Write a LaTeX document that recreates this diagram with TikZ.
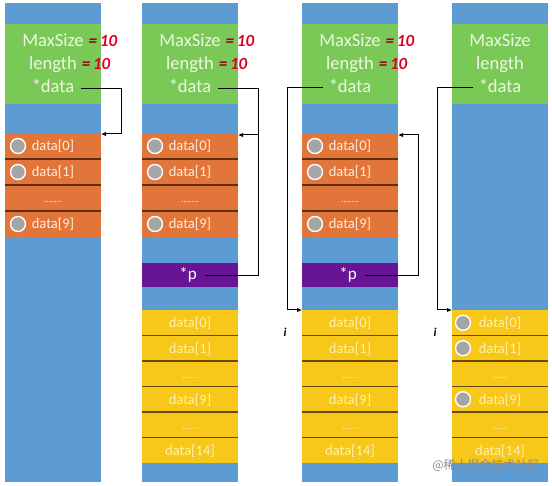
\documentclass[tikz,border=0pt]{standalone}
\usepackage{fontspec}
\setmainfont{Carlito}
\newfontfamily\cjkfont{Noto Sans CJK SC}
\usetikzlibrary{arrows.meta}
\definecolor{blueC}{RGB}{93,155,211}
\definecolor{greenC}{RGB}{122,200,86}
\definecolor{orangeC}{RGB}{226,118,58}
\definecolor{yellowC}{RGB}{247,199,26}
\definecolor{purpleC}{RGB}{104,20,150}
\definecolor{gtextC}{RGB}{236,248,226}
\definecolor{otextC}{RGB}{255,236,222}
\definecolor{ytextC}{RGB}{255,240,175}
\definecolor{circG}{RGB}{165,165,165}
\definecolor{sepOC}{RGB}{95,45,15}
\definecolor{sepYC}{RGB}{105,75,5}
\definecolor{annoDark}{RGB}{150,0,25}
\definecolor{annoRed}{RGB}{225,0,45}
\begin{document}
\begin{tikzpicture}[x=1pt,y=-1pt,
 every node/.style={inner sep=0pt, outer sep=0pt},
 colbg/.style={fill=blueC, minimum width=96pt, minimum height=479pt, anchor=north west},
 greenbox/.style={fill=greenC, minimum width=96pt, minimum height=80pt, anchor=north west},
 orow/.style={fill=orangeC, minimum width=96pt, minimum height=26pt, anchor=north west, text=otextC, font=\fontsize{14.5}{14.5}\selectfont, text height=11pt, text depth=1pt},
 yrow/.style={fill=yellowC, minimum width=96pt, minimum height=25.5pt, anchor=north west, text=ytextC, font=\fontsize{14.5}{14.5}\selectfont, text height=11pt, text depth=1pt},
 prow/.style={fill=purpleC, minimum width=96pt, minimum height=24pt, anchor=north west},
 gtext/.style={text=gtextC, font=\fontsize{18.5}{18.5}\selectfont, anchor=base},
 ptext/.style={text=white, font=\fontsize{17}{17}\selectfont, anchor=base},
 anno/.style={anchor=base west, font=\fontsize{17}{17}\selectfont\bfseries\itshape},
 circ/.style={circle, fill=circG, draw=white, line width=1.4pt, minimum size=15pt},
 sepO/.style={draw=sepOC, line width=1.2pt},
 sepY/.style={draw=sepYC, line width=1.2pt},
 arr/.style={draw=black, line width=1pt, -{Latex[length=5pt,width=4.5pt]}},
 link/.style={draw=black, line width=1pt},
 imark/.style={text=black, font=\fontsize{12}{12}\selectfont\bfseries\itshape},
 wm/.style={text=black!45, font=\cjkfont\fontsize{12}{12}\selectfont}
]
\useasboundingbox (0,0) rectangle (552,486);
\fill[white] (0,0) rectangle (552,486);

% column backgrounds and green headers
\foreach \c/\x in {1/5,2/142,3/302,4/452}{
  \node[colbg] (col\c) at (\x,3) {};
  \node[greenbox] (g\c) at (\x,24) {};
  \node[gtext] (g\c max) at (\x+48,47) {MaxSize};
  \node[gtext] (g\c len) at (\x+48,70) {length};
  \node[gtext] (g\c data) at (\x+48,93) {*data};
}
% handwritten annotations
\foreach \c in {1,2,3}{
  \node[anno] (a\c max) at ([xshift=5pt]g\c max.base east) {\textcolor{annoDark}{=}\,\textcolor{annoRed}{10}};
  \node[anno] (a\c len) at ([xshift=5pt]g\c len.base east) {\textcolor{annoDark}{=}\,\textcolor{annoRed}{10}};
}

% orange arrays (columns 1-3)
\foreach \c/\x in {1/5,2/142,3/302}{
  \node[orow] (o\c r0) at (\x,133) {data[0]};
  \node[orow] (o\c r1) at (\x,159) {data[1]};
  \node[orow, font=\fontsize{10}{10}\selectfont] (o\c r2) at (\x,185) {.......};
  \node[orow] (o\c r3) at (\x,211) {data[9]};
  \draw[sepO] (o\c r0.south west) -- (o\c r0.south east);
  \draw[sepO] (o\c r1.south west) -- (o\c r1.south east);
  \draw[sepO] (o\c r2.south west) -- (o\c r2.south east);
  \node[circ] (o\c c0) at ([xshift=13pt]o\c r0.west) {};
  \node[circ] (o\c c1) at ([xshift=13pt]o\c r1.west) {};
  \node[circ] (o\c c3) at ([xshift=13pt]o\c r3.west) {};
}

% purple *p (columns 2-3)
\foreach \c/\x in {2/142,3/302}{
  \node[prow] (p\c) at (\x,263) {};
  \node[ptext] (p\c t) at (\x+46,280) {*p};
}

% yellow arrays (columns 2-4)
\foreach \c/\x in {2/142,3/302,4/452}{
  \node[yrow] (y\c r0) at (\x,310) {data[0]};
  \node[yrow] (y\c r1) at (\x,335.5) {data[1]};
  \node[yrow, font=\fontsize{10}{10}\selectfont] (y\c r2) at (\x,361) {......};
  \node[yrow] (y\c r3) at (\x,386.5) {data[9]};
  \node[yrow, font=\fontsize{10}{10}\selectfont] (y\c r4) at (\x,412) {......};
  \node[yrow] (y\c r5) at (\x,437.5) {data[14]};
  \foreach \r in {0,...,4}{
    \draw[sepY] (y\c r\r.south west) -- (y\c r\r.south east);
  }
}
\node[circ] (y4c0) at ([xshift=11pt]y4r0.west) {};
\node[circ] (y4c1) at ([xshift=11pt]y4r1.west) {};
\node[circ] (y4c3) at ([xshift=11pt]y4r3.west) {};

% connectors
\coordinate (k1) at (121,0);
\coordinate (k2) at (258,0);
\coordinate (k3) at (287,0);
\coordinate (k3b) at (418,0);
\coordinate (k4) at (437,0);

\coordinate (s1) at ([xshift=7pt,yshift=4pt]g1data.base east);
\draw[arr] (s1) -- (s1 -| k1) |- ([yshift=-1pt]o1r0.north east);

\coordinate (s2) at ([xshift=7pt,yshift=4pt]g2data.base east);
\coordinate (q2) at ([xshift=8pt,yshift=4pt]p2t.base east);
\draw[link] (s2) -- (s2 -| k2) |- (q2);
\draw[arr] ([yshift=-2pt]o2r0.north east -| k2) -- ([yshift=-2pt]o2r0.north east);

\coordinate (s3) at ([xshift=-6pt,yshift=5pt]g3data.base west);
\draw[arr] (s3) -- (s3 -| k3) |- (y3r0.north west);
\coordinate (q3) at ([xshift=8pt,yshift=4pt]p3t.base east);
\draw[arr] (q3) -- (q3 -| k3b) |- ([yshift=-2pt]o3r0.north east);

\coordinate (s4) at ([xshift=-6pt,yshift=5pt]g4data.base west);
\draw[arr] (s4) -- (s4 -| k4) |- (y4r0.north west);

% small marks and watermark
\node[imark] (i3) at (285,332) {i};
\node[imark] (i4) at (435,332) {i};
\node[wm] (wm) at (486,465) {@稀土掘金技术社区};
\end{tikzpicture}
\end{document}
